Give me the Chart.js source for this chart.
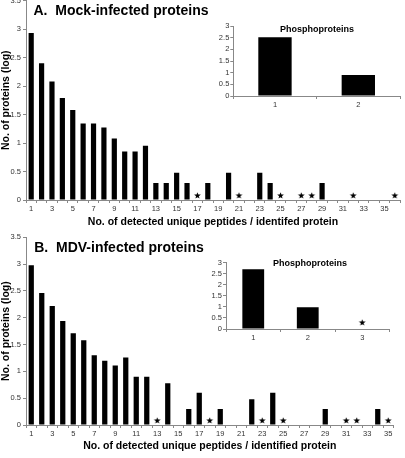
<!DOCTYPE html>
<html>
<head>
<meta charset="utf-8">
<script src="https://cdn.jsdelivr.net/npm/chart.js@4"></script>
<style>
body { margin: 0; background: #fff; }
#wrap { position: relative; width: 405px; height: 458px; overflow: hidden; font-family: "Liberation Sans", Arial, sans-serif; }
canvas { position: absolute; }
.ttl { position: absolute; font-weight: bold; white-space: pre; color: #000; line-height: 1; transform: translate(-50%, -50%); }
</style>
</head>
<body>
<div id="wrap">
    <canvas id="mainA" width="405" height="238" style="left:0;top:-8px"></canvas>
    <canvas id="mainB" width="405" height="228" style="left:0;top:230px"></canvas>
    <canvas id="phosA" width="200" height="100" style="left:205px;top:15px"></canvas>
    <canvas id="phosB" width="200" height="100" style="left:195px;top:250px"></canvas>
    <div class="ttl" style="left:121px;top:10px;font-size:14px">A.  Mock-infected proteins</div>
    <div class="ttl" style="left:119px;top:247px;font-size:14px">B.  MDV-infected proteins</div>
    <div class="ttl" style="left:317px;top:29px;font-size:9px">Phosphoproteins</div>
    <div class="ttl" style="left:310px;top:263px;font-size:9px">Phosphoproteins</div>
</div>
<script>
// number of unique peptides per protein (categories)
const peptidesA = ['1','2','3','4','5','6','7','8','9','10','11','12','13','14','15','16','17','18',
    '19','20','21','22','23','24','25','26','27','28','29','30','31','32','33','34','35','36'];
const peptidesB = ['1','2','3','4','5','6','7','8','9','10','11','12','13','14','15','16','17','18',
    '19','20','21','22','23','24','25','26','27','28','29','30','31','32','33','34','35'];

// log(no. of proteins)
const mockLog = [2.93, 2.40, 2.08, 1.79, 1.58, 1.34, 1.34, 1.27, 1.08, 0.85, 0.85, 0.95,
    0.30, 0.30, 0.48, 0.30, 0, 0.30, 0, 0.48, 0, 0, 0.48, 0.30, 0, 0, 0, 0, 0.30, 0, 0, 0, 0, 0, 0, 0];
const mdvLog = [2.98, 2.46, 2.22, 1.94, 1.71, 1.58, 1.30, 1.20, 1.11, 1.26, 0.90, 0.90,
    0, 0.78, 0, 0.30, 0.60, 0, 0.30, 0, 0, 0.48, 0, 0.60, 0, 0, 0, 0, 0.30, 0, 0, 0, 0, 0.30, 0];

// categories marked with a star (single protein, log = 0)
const mockStars = ['17', '21', '25', '27', '28', '32', '36'];
const mdvStars = ['13', '18', '23', '25', '31', '32', '35'];

// phosphoproteins insets
const phosLabelsA = ['1', '2'];
const phosMock = [2.52, 0.90];
const phosLabelsB = ['1', '2', '3'];
const phosMdv = [2.70, 0.98, 0];
const phosStarsB = ['3'];

const fontFam = '"Liberation Sans", Arial, sans-serif';
const axisGray = '#888';

// filled five point star, lifted above the point
function makeStar(r, lift) {
    const c = document.createElement('canvas');
    const w = Math.ceil(2 * r + 2);
    const h = Math.ceil(2 * (lift + r + 1));
    c.width = w;
    c.height = h;
    const g = c.getContext('2d');
    const cx = w / 2, cy = h / 2 - lift;
    g.beginPath();
    for (let i = 0; i < 10; i++) {
        const rad = i % 2 === 0 ? r : r * 0.42;
        const a = -Math.PI / 2 + i * Math.PI / 5;
        const px = cx + rad * Math.cos(a), py = cy + rad * Math.sin(a);
        if (i === 0) g.moveTo(px, py); else g.lineTo(px, py);
    }
    g.closePath();
    g.fillStyle = '#000';
    g.fill();
    return c;
}

function starData(labels, stars) {
    return labels.map(l => stars.includes(l) ? 0 : null);
}

const plainNum = v => String(v);

function mainChart(id, labels, values, stars, pad, xHeight, titleText, titleBottom) {
    return new Chart(document.getElementById(id), {
        type: 'bar',
        data: {
            labels: labels,
            datasets: [{
                data: values,
                backgroundColor: '#000',
                barPercentage: 0.5,
                categoryPercentage: 1,
                order: 2
            }, {
                type: 'line',
                data: starData(labels, stars),
                showLine: false,
                pointStyle: makeStar(3.5, 4.3),
                pointRadius: 4,
                clip: false,
                order: 1
            }]
        },
        options: {
            responsive: false,
            animation: false,
            layout: { padding: pad },
            plugins: { legend: { display: false }, tooltip: { enabled: false } },
            scales: {
                x: {
                    afterFit: s => { s.height = xHeight; },
                    grid: { drawOnChartArea: false, drawTicks: true, tickLength: 3, color: axisGray },
                    border: { color: axisGray },
                    ticks: {
                        autoSkip: false, maxRotation: 0, padding: 1,
                        color: '#333', font: { family: fontFam, size: 7.5 },
                        callback: function (v) {
                            const l = this.getLabelForValue(v);
                            return Number(l) % 2 === 1 ? l : '';
                        }
                    },
                    title: {
                        display: true, text: titleText, color: '#000',
                        font: { family: fontFam, size: 10.5, weight: 'bold' },
                        padding: { top: 0, bottom: titleBottom }
                    }
                },
                y: {
                    min: 0, max: 3.5,
                    afterFit: s => { s.width = 26; },
                    grid: { drawOnChartArea: false, drawTicks: true, tickLength: 3, color: axisGray },
                    border: { color: axisGray },
                    ticks: {
                        stepSize: 0.5, autoSkip: false, padding: 2, callback: plainNum,
                        color: '#333', font: { family: fontFam, size: 7.5 }
                    },
                    title: {
                        display: true, text: 'No. of proteins (log)', color: '#000',
                        font: { family: fontFam, size: 10.5, weight: 'bold' },
                        padding: { top: 0, bottom: 0 }
                    }
                }
            }
        }
    });
}

function phosChart(id, labels, values, stars, pad, yWidth, xHeight) {
    return new Chart(document.getElementById(id), {
        type: 'bar',
        data: {
            labels: labels,
            datasets: [{
                data: values,
                backgroundColor: '#000',
                barPercentage: 0.4,
                categoryPercentage: 1,
                order: 2
            }, {
                type: 'line',
                data: starData(labels, stars),
                showLine: false,
                pointStyle: makeStar(3.5, 6.3),
                pointRadius: 4,
                clip: false,
                order: 1
            }]
        },
        options: {
            responsive: false,
            animation: false,
            layout: { padding: pad },
            plugins: { legend: { display: false }, tooltip: { enabled: false } },
            scales: {
                x: {
                    afterFit: s => { s.height = xHeight; },
                    grid: { drawOnChartArea: false, drawTicks: true, tickLength: 3, color: axisGray },
                    border: { color: axisGray },
                    ticks: { maxRotation: 0, padding: 1, color: '#333', font: { family: fontFam, size: 7.5 } }
                },
                y: {
                    min: 0, max: 3,
                    afterFit: s => { s.width = yWidth; },
                    grid: { drawOnChartArea: false, drawTicks: true, tickLength: 3, color: axisGray },
                    border: { color: axisGray },
                    ticks: {
                        stepSize: 0.5, autoSkip: false, padding: 1, callback: plainNum,
                        color: '#333', font: { family: fontFam, size: 7.5 }
                    }
                }
            }
        }
    });
}

mainChart('mainA', peptidesA, mockLog, mockStars, { top: 8.5, right: 4.6, left: 0, bottom: 0 }, 30,
    'No. of detected unique peptides / identifed protein', 2);
mainChart('mainB', peptidesB, mdvLog, mdvStars, { top: 7.3, right: 11.5, left: 0, bottom: 0 }, 33,
    'No. of detected unique peptides / identified protein', 6);

phosChart('phosA', phosLabelsA, phosMock, [], { top: 11, right: 4, left: 0, bottom: 0 }, 28.3, 19);
phosChart('phosB', phosLabelsB, phosMdv, phosStarsB, { top: 12.7, right: 5.5, left: 0, bottom: 0 }, 31, 21);
</script>
</body>
</html>
